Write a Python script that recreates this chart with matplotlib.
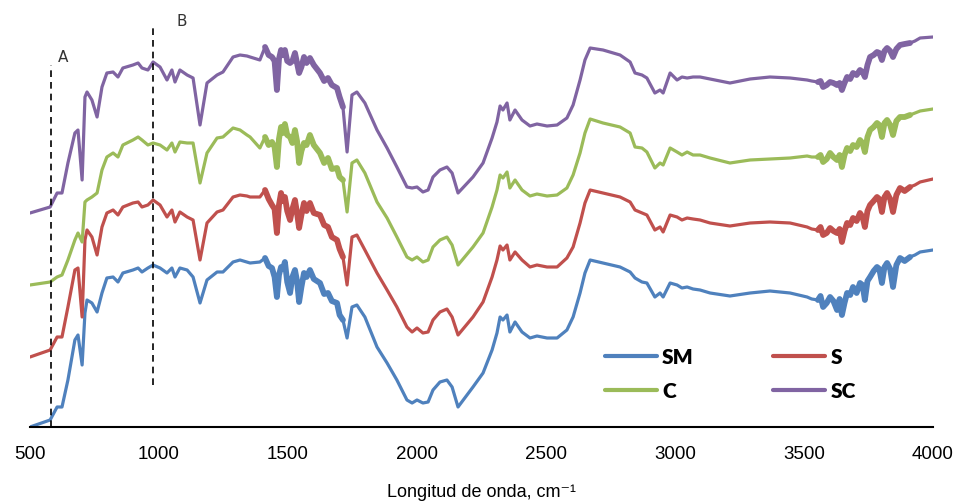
import matplotlib
matplotlib.use("Agg")
import matplotlib.pyplot as plt

# wavenumber grid (cm-1), shared by the four spectra
wavenumber = [500, 578, 605, 624, 647, 674, 686, 702, 713, 721,
              740, 760, 779, 798, 822, 841, 860, 899, 919, 934,
              957, 977, 1004, 1031, 1050, 1062, 1081, 1109, 1132, 1159,
              1186, 1225, 1248, 1287, 1314, 1341, 1353, 1391, 1411, 1438,
              1457, 1473, 1488, 1508, 1527, 1543, 1562, 1585, 1624, 1655,
              1690, 1713, 1729, 1748, 1767, 1798, 1845, 1884, 1922, 1961,
              1981, 2000, 2023, 2043, 2062, 2089, 2116, 2136, 2159, 2217,
              2256, 2291, 2310, 2322, 2333, 2349, 2360, 2380, 2407, 2438,
              2465, 2504, 2543, 2581, 2605, 2632, 2651, 2671, 2721, 2787,
              2826, 2845, 2872, 2891, 2922, 2942, 2954, 2981, 3008, 3027,
              3047, 3070, 3097, 3136, 3213, 3291, 3368, 3446, 3512, 3554,
              3574, 3601, 3628, 3647, 3667, 3690, 3717, 3736, 3756, 3783,
              3802, 3822, 3845, 3872, 3911, 3950, 4000]

# stacked spectra, arbitrary units (already offset as drawn)
sm = [0, 7, 20, 20, 47, 87, 92, 62, 114, 127,
      124, 115, 134, 149, 150, 145, 154, 157, 159, 155,
      159, 162, 159, 154, 159, 150, 159, 157, 150, 124,
      147, 155, 155, 165, 167, 165, 164, 165, 169, 159,
      130, 160, 165, 134, 157, 125, 154, 157, 144, 134,
      124, 107, 89, 120, 122, 110, 80, 64, 47, 27,
      24, 27, 24, 25, 37, 45, 47, 40, 20, 40,
      54, 77, 94, 110, 107, 112, 95, 105, 95, 89,
      91, 89, 89, 97, 110, 134, 154, 167, 164, 160,
      155, 149, 145, 144, 130, 134, 130, 144, 142, 139,
      140, 138, 137, 134, 131, 134, 136, 134, 130, 127,
      120, 130, 117, 112, 134, 140, 144, 127, 150, 160,
      144, 164, 140, 169, 170, 175, 177]

s = [70, 77, 90, 90, 120, 157, 159, 110, 187, 197,
     190, 172, 200, 214, 217, 212, 220, 224, 225, 220,
     222, 227, 222, 210, 217, 205, 215, 210, 207, 167,
     204, 215, 217, 230, 232, 231, 230, 230, 237, 222,
     194, 234, 230, 207, 227, 199, 224, 224, 212, 200,
     187, 170, 142, 190, 192, 177, 154, 137, 120, 100,
     95, 99, 94, 95, 107, 115, 118, 110, 92, 110,
     125, 150, 167, 181, 177, 182, 167, 175, 167, 160,
     162, 160, 160, 169, 180, 204, 224, 237, 234, 230,
     225, 217, 214, 212, 197, 200, 195, 212, 210, 207,
     209, 208, 207, 204, 201, 204, 205, 204, 200, 197,
     192, 199, 194, 185, 204, 209, 214, 200, 222, 230,
     215, 234, 215, 239, 240, 245, 248]

c = [142, 145, 150, 152, 167, 187, 194, 185, 225, 227,
     230, 234, 257, 270, 274, 270, 282, 287, 290, 287,
     282, 284, 282, 277, 284, 275, 285, 284, 284, 244,
     274, 289, 290, 299, 297, 292, 290, 279, 290, 285,
     260, 300, 303, 290, 297, 264, 284, 292, 274, 269,
     259, 247, 215, 264, 267, 254, 225, 209, 190, 170,
     167, 170, 165, 167, 180, 187, 190, 182, 162, 180,
     194, 220, 237, 252, 249, 255, 239, 247, 237, 231,
     233, 231, 232, 239, 252, 274, 294, 308, 304, 300,
     294, 280, 279, 275, 259, 264, 262, 279, 275, 272,
     275, 272, 272, 269, 264, 267, 268, 269, 271, 270,
     265, 274, 267, 260, 279, 282, 287, 275, 297, 304,
     290, 307, 292, 310, 312, 316, 318]

sc = [214, 220, 234, 234, 264, 294, 297, 247, 330, 335,
      327, 310, 340, 354, 355, 350, 359, 362, 364, 359,
      357, 365, 360, 347, 357, 345, 357, 352, 349, 302,
      344, 352, 355, 370, 372, 371, 370, 367, 380, 370,
      337, 377, 377, 364, 374, 354, 370, 369, 354, 349,
      339, 320, 275, 332, 335, 324, 297, 279, 260, 240,
      239, 240, 235, 237, 250, 257, 260, 254, 234, 250,
      264, 289, 305, 321, 317, 324, 307, 317, 307, 301,
      303, 301, 302, 309, 322, 347, 367, 379, 377, 372,
      365, 354, 352, 349, 334, 337, 334, 354, 347, 350,
      349, 350, 350, 348, 344, 348, 350, 349, 347, 345,
      340, 345, 342, 337, 350, 354, 357, 350, 370, 375,
      367, 379, 370, 382, 384, 389, 390]

# extra readings inside the noisy stretches
wavenumber_extra = [1425, 1448, 1465, 1480, 1497, 1517, 1535, 1552, 1572, 1600,
                    1640, 1670, 1700, 3530, 3564, 3588, 3614, 3638, 3657, 3679,
                    3704, 3727, 3746, 3770, 3792, 3812, 3834, 3858, 3890, 3930]
sm_extra = [161, 150, 152, 158, 145, 150, 146, 140, 150, 148,
            133, 126, 112, 128, 131, 124, 126, 128, 124, 132,
            134, 142, 146, 156, 158, 160, 158, 162, 166, 172]
s_extra = [228, 218, 222, 226, 216, 218, 214, 212, 216, 214,
           202, 190, 178, 198, 200, 194, 196, 198, 196, 202,
           206, 210, 216, 226, 228, 230, 228, 232, 236, 242]
c_extra = [282, 280, 288, 294, 292, 284, 286, 276, 282, 282,
           264, 258, 250, 270, 272, 268, 270, 272, 272, 276,
           280, 284, 290, 300, 302, 304, 302, 306, 310, 314]
sc_extra = [372, 366, 368, 372, 366, 366, 364, 360, 364, 362,
            346, 342, 330, 346, 346, 342, 344, 344, 344, 348,
            352, 355, 362, 372, 374, 376, 376, 378, 383, 386]

names = ["SM", "S", "C", "SC"]
colors = ["#4F81BD", "#C0504D", "#9BBB59", "#8064A2"]

# noisy stretches of the spectra (drawn as a thicker band)
noisy_ranges = [(1405, 1720), (3540, 3920)]

# reference lines A and B
marker_x = [580, 977]
marker_y0 = [0, 42]
marker_y1 = [362, 399]
marker_names = ["A", "B"]
marker_label_x = [628, 1089]
marker_label_y = [370, 405]

fig = plt.figure(figsize=(9.6, 5.04), dpi=100)
ax = fig.add_axes([30 / 960, 1 - 427 / 504, 903 / 960, 427 / 504])

lines = {}
all_data = [(sm, sm_extra), (s, s_extra), (c, c_extra), (sc, sc_extra)]
for name, (vals, extra), col in zip(names, all_data, colors):
    pts = sorted(zip(wavenumber + wavenumber_extra, vals + extra))
    xs = [p[0] for p in pts]
    ys = [p[1] for p in pts]
    lines[name], = ax.plot(xs, ys, color=col, lw=2.3, label=name,
                           solid_joinstyle="round", solid_capstyle="round")
    for lo, hi in noisy_ranges:
        sub = [(x, y) for x, y in pts if lo <= x <= hi]
        ax.plot([p[0] for p in sub], [p[1] for p in sub], color=col, lw=4.2,
                solid_joinstyle="round", solid_capstyle="round")

for xv, y0, y1 in zip(marker_x, marker_y0, marker_y1):
    ax.plot([xv, xv], [y0, y1], color="black", lw=1.2, ls=(0, (4, 3)))
for nm, lx, ly in zip(marker_names, marker_label_x, marker_label_y):
    ax.text(lx, ly, nm, fontsize=11, color="#333333", family="DejaVu Sans",
            ha="center", va="center")

ax.set_xlim(500, 4000)
ax.set_ylim(0, 427)
ax.set_xticks(range(500, 4001, 500))
ax.set_yticks([])
for side in ["left", "right", "top"]:
    ax.spines[side].set_visible(False)
ax.spines["bottom"].set_linewidth(1.5)
ax.tick_params(axis="x", length=0, pad=14, labelsize=13.5)
for lbl in ax.get_xticklabels():
    lbl.set_family("Liberation Sans")
ax.set_xlabel("Longitud de onda, cm\u207b\u00b9", fontsize=13,
              family=["Liberation Sans", "DejaVu Sans"], labelpad=15)
ax.patch.set_alpha(0)

# legend rows: SM, S / C, SC
order = ["SM", "C", "S", "SC"]
leg = fig.legend([lines[n] for n in order], order, ncol=2, loc="upper left",
                 bbox_to_anchor=(586 / 960, 1 - 329 / 504), frameon=False,
                 handlelength=2.5, handletextpad=0.25, columnspacing=3.8,
                 labelspacing=0.72, prop={"family": "Lato", "weight": "heavy", "size": 15})
for ln in leg.get_lines():
    ln.set_linewidth(3)

fig.savefig("out.png", dpi=100)
